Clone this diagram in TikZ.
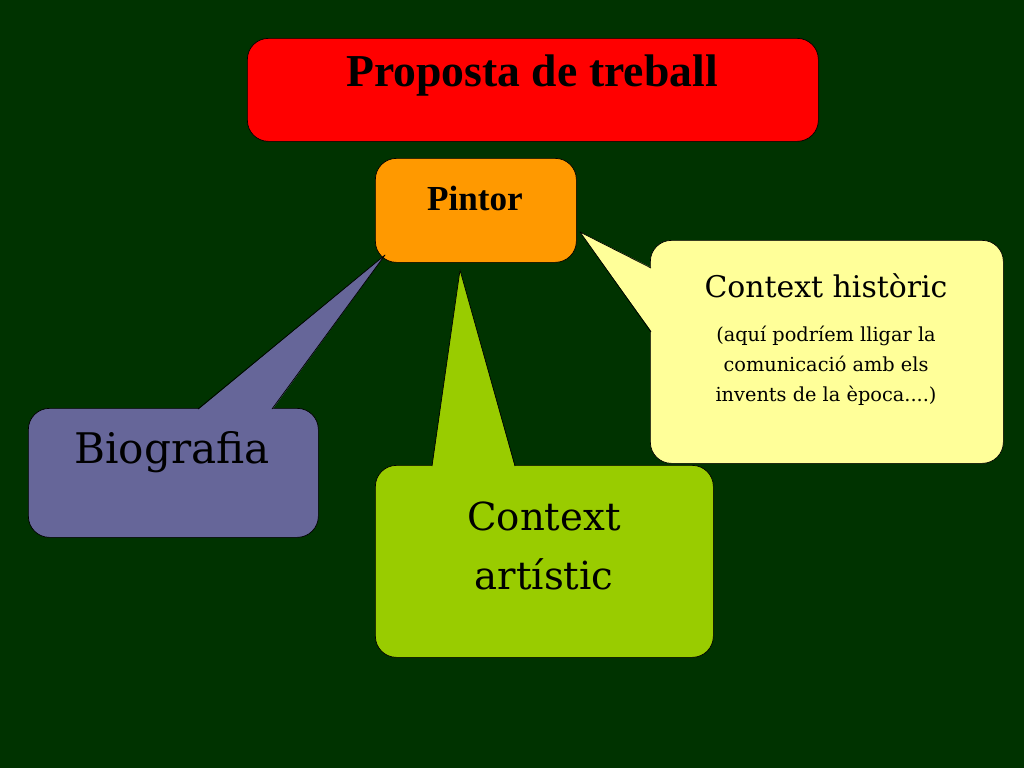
\documentclass[tikz,border=0pt]{standalone}
\usepackage{fontspec}
\setmainfont{TeX Gyre Heros}
\newfontfamily\hand{DejaVu Serif}
\newfontfamily\boldserif{Liberation Serif}
\definecolor{bgreen}{HTML}{003300}
\definecolor{boxred}{HTML}{FF0000}
\definecolor{boxorange}{HTML}{FF9900}
\definecolor{boxpurple}{HTML}{666699}
\definecolor{boxgreen}{HTML}{99CC00}
\definecolor{boxyellow}{HTML}{FFFF99}
\tikzset{
  panel/.style={draw=black, rounded corners=12pt, inner sep=0pt, anchor=north west},
  tail/.style={draw=black, line join=round}
}
\begin{document}
\begin{tikzpicture}[x=0.02cm, y=-0.02cm]

\fill[bgreen] (0,0) rectangle (1024,768);
\useasboundingbox (0,0) rectangle (1024,768);

\node[panel, fill=boxred, minimum width=571*0.02cm, minimum height=103*0.02cm] (title) at (247,38) {};
\node[font=\boldserif\bfseries\fontsize{26}{30}\selectfont] at (532,76) {Proposta de treball};

\node[panel, fill=boxorange, minimum width=201*0.02cm, minimum height=104*0.02cm] (pintor) at (375,158) {};
\node[font=\boldserif\bfseries\fontsize{20}{24}\selectfont] at (475,198) {Pintor};

% callouts
\node[panel, fill=boxpurple, minimum width=290*0.02cm, minimum height=129*0.02cm] (bio) at (28,408) {};
\coordinate (biotip) at (385,255);
\fill[boxpurple] (198,410) -- (biotip) -- (272,410) -- cycle;
\draw[tail] (198,409) -- (biotip) -- (272,409);
\node[font=\hand\fontsize{24}{28}\selectfont] at (172,452) {Biografia};

\node[panel, fill=boxgreen, minimum width=338*0.02cm, minimum height=192*0.02cm] (art) at (375,465) {};
\coordinate (arttip) at (460,270);
\fill[boxgreen] (432,467) -- (arttip) -- (515,467) -- cycle;
\draw[tail] (432,466) -- (arttip) -- (515,466);
\node[font=\hand\fontsize{22}{34}\selectfont, align=center] at (544,546) {Context\\artístic};

\node[panel, fill=boxyellow, minimum width=353*0.02cm, minimum height=223*0.02cm] (hist) at (650,240) {};
\coordinate (histtip) at (580,232);
\fill[boxyellow] (652,268) -- (histtip) -- (652,332) -- cycle;
\draw[tail] (651,268) -- (histtip) -- (651,332);
\node[font=\hand\fontsize{17}{20}\selectfont] at (826,286) {Context històric};
\node[font=\hand\fontsize{11}{17}\selectfont, align=center] at (826,366)
  {(aquí podríem lligar la\\comunicació amb els\\invents de la època....)};

\end{tikzpicture}
\end{document}
